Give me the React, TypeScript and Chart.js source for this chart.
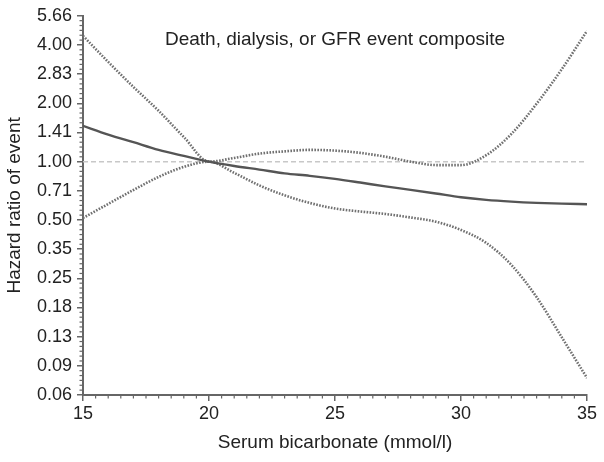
import React, { useEffect, useRef } from "react";
import { Chart, registerables } from "chart.js";

Chart.register(...registerables);

const xValues = [15, 16, 17, 18, 19, 20, 21, 22, 23, 24, 25, 26, 27, 28, 29, 30, 31, 32, 33, 34, 35];
const estimate = [1.53, 1.38, 1.26, 1.15, 1.07, 1.0, 0.95, 0.91, 0.87, 0.845, 0.815, 0.78, 0.745, 0.715, 0.685, 0.655, 0.635, 0.622, 0.613, 0.607, 0.603];
const upperCI = [4.46, 3.27, 2.43, 1.83, 1.34, 1.0, 1.045, 1.1, 1.13, 1.15, 1.14, 1.11, 1.06, 1.0, 0.96, 0.96, 1.08, 1.39, 1.99, 3.0, 4.73];
const lowerCI = [0.512, 0.605, 0.714, 0.834, 0.94, 1.0, 0.875, 0.754, 0.67, 0.612, 0.573, 0.553, 0.537, 0.515, 0.49, 0.444, 0.381, 0.293, 0.2, 0.124, 0.0765];
const referenceValue = 1;

const yTickValues = [0.0625, 0.0884, 0.125, 0.1768, 0.25, 0.3536, 0.5, 0.7071, 1, 1.4142, 2, 2.8284, 4, 5.6569];
const yTickLabels = ["0.06", "0.09", "0.13", "0.18", "0.25", "0.35", "0.50", "0.71", "1.00", "1.41", "2.00", "2.83", "4.00", "5.66"];

const chartTitle = "Death, dialysis, or GFR event composite";
const xTitle = "Serum bicarbonate (mmol/l)";
const yTitle = "Hazard ratio of event";

const FONT = "'Liberation Sans', Arial, Helvetica, sans-serif";
const AXIS_COLOR = "#666";
const TEXT_COLOR = "#222";

const extrasPlugin = {
  id: "extras",
  afterDraw(chart: any) {
    const ctx = chart.ctx;
    const xs = chart.scales.x;
    const ys = chart.scales.y;
    const area = chart.chartArea;
    ctx.save();
    ctx.strokeStyle = AXIS_COLOR;
    ctx.lineWidth = 1.2;
    for (let i = 0; i < yTickValues.length - 1; i++) {
      const lo = yTickValues[i];
      const hi = yTickValues[i + 1];
      for (let j = 1; j < 6; j++) {
        const v = lo * Math.pow(hi / lo, j / 6);
        const py = ys.getPixelForValue(v);
        ctx.beginPath();
        ctx.moveTo(area.left - 3.5, py);
        ctx.lineTo(area.left, py);
        ctx.stroke();
      }
    }
    for (let v = 15.5; v < 35; v += 0.5) {
      if (Math.abs(v % 5) < 1e-6) continue;
      const px = xs.getPixelForValue(v);
      ctx.beginPath();
      ctx.moveTo(px, area.bottom);
      ctx.lineTo(px, area.bottom + 3.5);
      ctx.stroke();
    }
    ctx.fillStyle = TEXT_COLOR;
    ctx.font = `19px ${FONT}`;
    ctx.textAlign = "center";
    ctx.textBaseline = "middle";
    ctx.fillText(chartTitle, (area.left + area.right) / 2, area.top + 24);
    ctx.restore();
  },
};

export default function App() {
  const canvasRef = useRef<HTMLCanvasElement | null>(null);

  useEffect(() => {
    if (!canvasRef.current) return;
    const toPts = (arr: number[]) => xValues.map((x, i) => ({ x, y: arr[i] }));
    const chart = new Chart(canvasRef.current, {
      type: "line",
      data: {
        datasets: [
          {
            label: "reference",
            data: [
              { x: xValues[0], y: referenceValue },
              { x: xValues[xValues.length - 1], y: referenceValue },
            ],
            borderColor: "#c8c8c8",
            borderWidth: 1.5,
            borderDash: [5, 3],
            pointRadius: 0,
            order: 4,
          },
          {
            label: "upper",
            data: toPts(upperCI),
            borderColor: "#707070",
            borderWidth: 2.6,
            borderDash: [1.6, 1.4],
            pointRadius: 0,
            cubicInterpolationMode: "monotone",
            order: 2,
          },
          {
            label: "lower",
            data: toPts(lowerCI),
            borderColor: "#707070",
            borderWidth: 2.6,
            borderDash: [1.6, 1.4],
            pointRadius: 0,
            cubicInterpolationMode: "monotone",
            order: 3,
          },
          {
            label: "estimate",
            data: toPts(estimate),
            borderColor: "#555",
            borderWidth: 2.4,
            pointRadius: 0,
            cubicInterpolationMode: "monotone",
            order: 1,
          },
        ],
      },
      options: {
        animation: false,
        responsive: true,
        maintainAspectRatio: false,
        layout: { padding: { top: 15, right: 17, left: 0, bottom: 0 } },
        plugins: {
          legend: { display: false },
          tooltip: { enabled: false },
        },
        scales: {
          x: {
            type: "linear",
            min: 15,
            max: 35,
            ticks: {
              stepSize: 5,
              color: TEXT_COLOR,
              font: { family: FONT, size: 18 },
              padding: 2,
              maxRotation: 0,
            },
            grid: {
              drawOnChartArea: false,
              drawTicks: true,
              tickLength: 6,
              color: AXIS_COLOR,
              lineWidth: 1.5,
            },
            border: { color: AXIS_COLOR, width: 2 },
            title: {
              display: true,
              text: xTitle,
              color: TEXT_COLOR,
              font: { family: FONT, size: 19 },
              padding: { top: 0, bottom: 8 },
            },
            afterFit: (s: any) => {
              s.height = 67;
            },
          },
          y: {
            type: "logarithmic",
            min: yTickValues[0],
            max: yTickValues[yTickValues.length - 1],
            afterBuildTicks: (s: any) => {
              s.ticks = yTickValues.map((v) => ({ value: v }));
            },
            ticks: {
              autoSkip: false,
              color: TEXT_COLOR,
              font: { family: FONT, size: 18 },
              padding: 5,
              callback: (v: any) => {
                const idx = yTickValues.findIndex((t) => Math.abs(t - Number(v)) / t < 1e-3);
                return idx >= 0 ? yTickLabels[idx] : "";
              },
            },
            grid: {
              drawOnChartArea: false,
              drawTicks: true,
              tickLength: 6,
              color: AXIS_COLOR,
              lineWidth: 1.5,
            },
            border: { color: AXIS_COLOR, width: 2 },
            title: {
              display: true,
              text: yTitle,
              color: TEXT_COLOR,
              font: { family: FONT, size: 19 },
              padding: { top: 3.5, bottom: 0 },
            },
            afterFit: (s: any) => {
              s.width = 83;
            },
          },
        },
      },
      plugins: [extrasPlugin],
    });
    return () => chart.destroy();
  }, []);

  return (
    <div style={{ position: "fixed", left: 0, top: 0, width: 604, height: 462, background: "#fff" }}>
      <canvas ref={canvasRef} />
    </div>
  );
}
